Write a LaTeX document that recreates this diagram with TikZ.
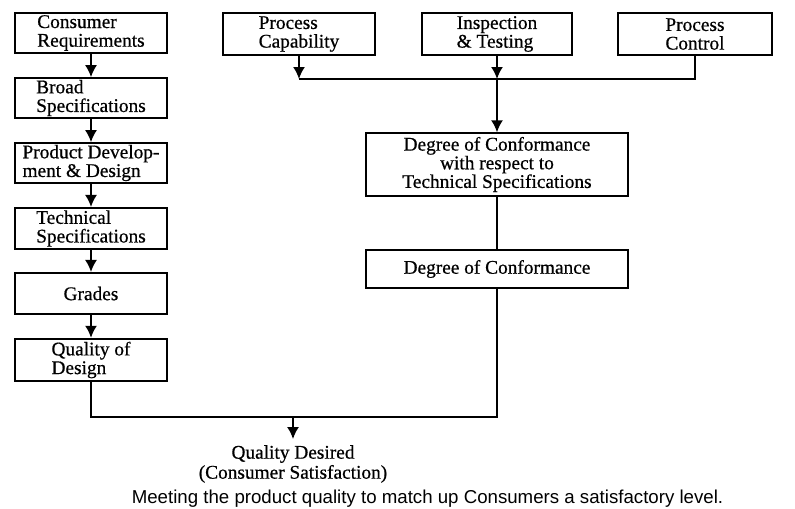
\documentclass[tikz,border=0pt]{standalone}
\usepackage{fontspec}
\setmainfont{Liberation Serif}[FakeBold=0.6]
\newfontfamily\capfont{Liberation Sans}
\usepackage{tikz}
\usetikzlibrary{arrows.meta}

\begin{document}
\begin{tikzpicture}[x=0.75pt,y=-0.75pt,line width=1.3pt,
		box/.style={draw,inner sep=0pt,minimum width=114pt,align=left,font=\fontsize{14.5}{14}\selectfont},
		arr/.style={-{Latex[length=9pt,width=9pt]}}]
		\useasboundingbox (0,0) rectangle (795,508);
		\node[box,minimum height=30pt] (cons) at (91,33) {Consumer\\Requirements};
		\node[box,minimum height=30pt] (broad) at (91,98) {Broad\\Specifications};
		\node[box,minimum height=30pt] (prod) at (91,163) {Product Develop-\\ment \& Design};
		\node[box,minimum height=31pt] (tech) at (91,228.5) {Technical\\Specifications};
		\node[box,minimum height=31pt] (grades) at (91,293.5) {Grades};
		\node[box,minimum height=32pt] (qod) at (91,360) {Quality of\\Design};
		\node[box,minimum height=31.5pt] (pcap) at (299,34) {Process\\Capability};
		\node[box,minimum height=31.5pt,minimum width=113pt] (insp) at (497,34) {Inspection\\\& Testing};
		\node[box,minimum height=31.5pt,minimum width=115.5pt] (pctl) at (695,34) {Process\\Control};
		\node[box,minimum height=47pt,minimum width=197pt,align=center] (dwrt) at (497,164.5) {Degree of Conformance\\with respect to\\Technical Specifications};
		\node[box,minimum height=28.5pt,minimum width=197pt] (doc) at (497,269) {Degree of Conformance};
		\node[font=\fontsize{14.5}{15}\selectfont,align=center,inner sep=4pt] (qd) at (293,464) {Quality Desired\\(Consumer Satisfaction)};
		\node[font=\capfont\fontsize{14}{16}\selectfont,anchor=base] (cap) at (427.5,503) {Meeting the product quality to match up Consumers a satisfactory level.};
		\coordinate (bus) at (0,79);
		\coordinate (merge) at (293,417);
		\draw[arr] (cons) -- (broad);
		\draw[arr] (broad) -- (prod);
		\draw[arr] (prod) -- (tech);
		\draw[arr] (tech) -- (grades);
		\draw[arr] (grades) -- (qod);
		\draw[arr] (pcap.south) -- (pcap.south |- bus);
		\draw[arr] (insp.south) -- (insp.south |- bus);
		\draw (pcap.south |- bus) -- (pctl.south |- bus) -- (pctl.south);
		\draw[arr] (insp.south |- bus) -- (dwrt);
		\draw (dwrt) -- (doc);
		\draw (qod.south) |- (doc.south |- merge) -- (doc.south);
		\draw[arr] (merge) -- (qd);
	\end{tikzpicture}
\end{document}
